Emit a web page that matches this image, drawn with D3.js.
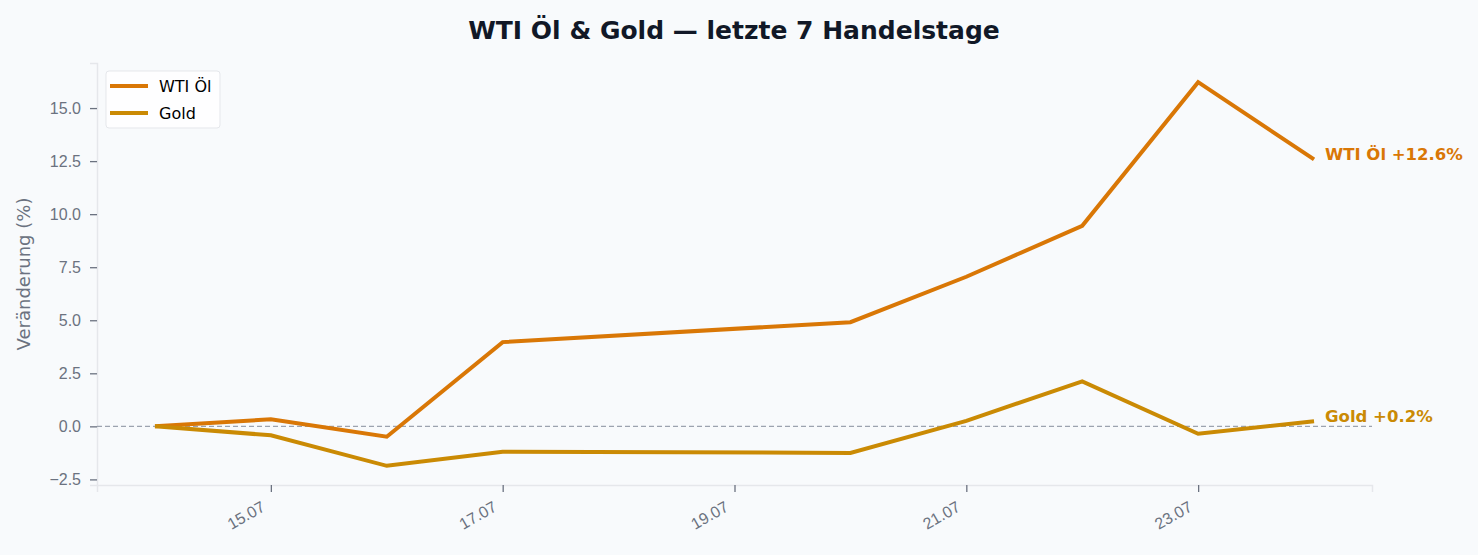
<!DOCTYPE html>
<html>
<head>
<meta charset="utf-8">
<script src="https://cdn.jsdelivr.net/npm/d3@7"></script>
<style>
  body { margin: 0; background: #f8fafc; }
  svg { display: block; font-family: "DejaVu Sans", sans-serif; }
</style>
</head>
<body>
<script>
  // data
  var dates = ['2025-07-14', '2025-07-15', '2025-07-16', '2025-07-17', '2025-07-20',
               '2025-07-21', '2025-07-22', '2025-07-23', '2025-07-24'];
  var wti  = [0, 0.33, -0.49, 3.97, 4.91, 7.05, 9.45, 16.22, 12.58];
  var gold = [0, -0.42, -1.86, -1.20, -1.25, 0.26, 2.12, -0.35, 0.24];
  var tickDates = ['2025-07-15', '2025-07-17', '2025-07-19', '2025-07-21', '2025-07-23'];
  var yTicks = [-2.5, 0, 2.5, 5, 7.5, 10, 12.5, 15];

  var series = [
    {name: 'WTI Öl', values: wti, color: '#d97706'},
    {name: 'Gold', values: gold, color: '#ca8a04'}
  ];

  var W = 1478, H = 555,
      m = {left: 97, right: 1478 - 1372, top: 63, bottom: 555 - 485};

  var parse = d3.timeParse('%Y-%m-%d'),
      xs = dates.map(parse);

  var svg = d3.select('body').append('svg')
    .attr('width', W).attr('height', H);

  svg.append('rect').attr('width', W).attr('height', H).attr('fill', '#f8fafc');

  // matplotlib-style 5% margins
  var xExt = d3.extent(xs), xPad = (xExt[1] - xExt[0]) * 0.05;
  var all = wti.concat(gold), yExt = d3.extent(all), yPad = (yExt[1] - yExt[0]) * 0.05;

  var x = d3.scaleTime()
    .domain([new Date(+xExt[0] - xPad), new Date(+xExt[1] + xPad)])
    .range([m.left, W - m.right]);
  var y = d3.scaleLinear()
    .domain([yExt[0] - yPad, yExt[1] + yPad])
    .range([H - m.bottom, m.top]);

  // axes
  var xAxis = svg.append('g')
    .attr('transform', 'translate(0,' + (H - m.bottom) + ')')
    .attr('font-family', '"DejaVu Sans", sans-serif')
    .call(d3.axisBottom(x).tickValues(tickDates.map(parse))
      .tickFormat(d3.timeFormat('%d.%m')).tickSize(7));
  xAxis.select('.domain').attr('stroke', '#e5e7eb').attr('stroke-width', 1.5);
  xAxis.selectAll('.tick line').attr('stroke', '#6b7280').attr('stroke-width', 1.3);
  xAxis.selectAll('.tick text')
    .attr('fill', '#6b7280').attr('font-size', 16)
    .attr('text-anchor', 'end')
    .attr('y', 0).attr('dy', '0.72em')
    .attr('transform', 'translate(-11,15) rotate(-30)');

  var yAxis = svg.append('g')
    .attr('transform', 'translate(' + m.left + ',0)')
    .attr('font-family', '"DejaVu Sans", sans-serif')
    .call(d3.axisLeft(y).tickValues(yTicks).tickSize(7).tickPadding(9));
  yAxis.select('.domain').attr('stroke', '#e5e7eb').attr('stroke-width', 1.5);
  yAxis.selectAll('.tick line').attr('stroke', '#6b7280').attr('stroke-width', 1.3);
  yAxis.selectAll('.tick text').attr('fill', '#6b7280').attr('font-size', 16)
    .text(function (d) { return d3.format('.1f')(d).replace('-', '\u2212'); });

  svg.append('text')
    .attr('transform', 'translate(30,' + ((m.top + H - m.bottom) / 2) + ') rotate(-90)')
    .attr('text-anchor', 'middle')
    .attr('fill', '#6b7280').attr('font-size', 18)
    .text('Veränderung (%)');

  // zero line
  svg.append('line')
    .attr('x1', m.left).attr('x2', W - m.right)
    .attr('y1', y(0)).attr('y2', y(0))
    .attr('stroke', '#9ca3af').attr('stroke-width', 1.3)
    .attr('stroke-dasharray', '5,3');

  var line = d3.line()
    .x(function (d, i) { return x(xs[i]); })
    .y(function (d) { return y(d); });

  svg.selectAll('path.series')
    .data(series)
    .enter()
    .append('path')
    .attr('class', 'series')
    .attr('d', function (d) { return line(d.values); })
    .attr('fill', 'none')
    .attr('stroke', function (d) { return d.color; })
    .attr('stroke-width', 4)
    .attr('stroke-linejoin', 'miter');

  // end labels
  svg.selectAll('text.endlbl')
    .data(series)
    .enter()
    .append('text')
    .attr('class', 'endlbl')
    .attr('x', x(xs[xs.length - 1]) + 11)
    .attr('y', function (d) { return y(d.values[d.values.length - 1]) - 5; })
    .attr('dy', '0.35em')
    .attr('fill', function (d) { return d.color; })
    .attr('font-size', 16.5).attr('font-weight', 'bold')
    .text(function (d) {
      var v = d.values[d.values.length - 1];
      return d.name + ' ' + (v >= 0 ? '+' : '') + v.toFixed(1) + '%';
    });

  // legend
  var lg = svg.append('g').attr('transform', 'translate(106,71)');
  lg.append('rect')
    .attr('width', 114).attr('height', 57).attr('rx', 3)
    .attr('fill', '#ffffff').attr('fill-opacity', 0.8)
    .attr('stroke', '#e5e7eb').attr('stroke-width', 1);
  var items = lg.selectAll('g.item').data(series).enter().append('g')
    .attr('transform', function (d, i) { return 'translate(0,' + (15 + i * 27) + ')'; });
  items.append('line')
    .attr('x1', 4).attr('x2', 42)
    .attr('stroke', function (d) { return d.color; }).attr('stroke-width', 4);
  items.append('text')
    .attr('x', 53).attr('dy', '0.35em')
    .attr('font-size', 16).attr('fill', '#000')
    .text(function (d) { return d.name; });

  // title
  svg.append('text')
    .attr('x', W / 2 - 5).attr('y', 39)
    .attr('text-anchor', 'middle')
    .attr('fill', '#111827').attr('font-size', 25).attr('font-weight', 'bold')
    .text('WTI Öl & Gold — letzte 7 Handelstage');
</script>
</body>
</html>
